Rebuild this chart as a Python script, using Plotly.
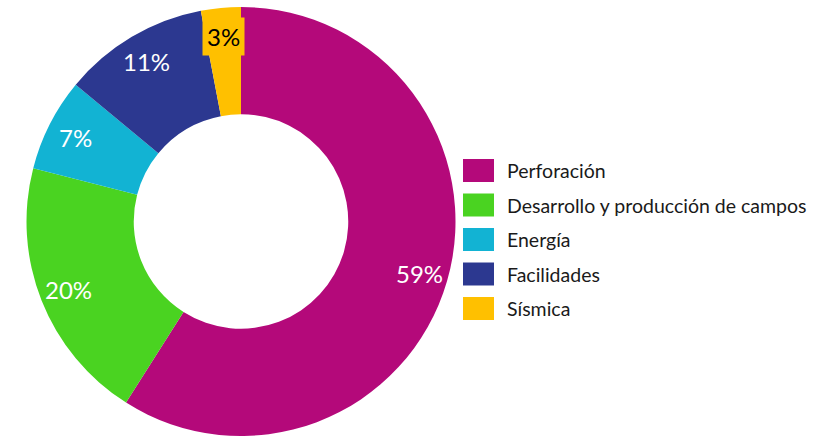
import math
import plotly.graph_objects as go

categories = ["Perforación", "Desarrollo y producción de campos", "Energía", "Facilidades", "Sísmica"]
values = [59, 20, 7, 11, 3]
colors = ["#B4097A", "#4AD321", "#12B3D3", "#2C3890", "#FFC000"]
label_colors = ["white", "white", "white", "white", "black"]
label_bg = [None, None, None, None, "#FFC000"]

W, H = 824, 436
CX, CY, R = 241.0, 221.5, 214.5
FONT = "Lato, Calibri, 'Open Sans', sans-serif"

fig = go.Figure(go.Pie(
    labels=categories,
    values=values,
    marker=dict(colors=colors, line=dict(width=0)),
    hole=0.5,
    sort=False,
    direction="clockwise",
    rotation=0,
    textinfo="none",
    showlegend=False,
    domain=dict(x=[(CX - R) / W, (CX + R) / W], y=[1 - (CY + R) / H, 1 - (CY - R) / H]),
))

annotations = []
shapes = []
total = sum(values)
cum = 0.0
for v, c, bg in zip(values, label_colors, label_bg):
    mid = (cum + v / 2) / total * 2 * math.pi
    cum += v
    rr = R * 0.865
    px = CX + rr * math.sin(mid)
    py = CY - rr * math.cos(mid)
    ann = dict(x=px / W, y=1 - py / H, xref="paper", yref="paper",
               text=f"{round(v / total * 100)}%", showarrow=False,
               font=dict(family=FONT, size=24, color=c),
               xanchor="center", yanchor="middle")
    if bg:
        ann.update(bgcolor=bg, borderpad=4)
    annotations.append(ann)

# legend
row0, gap = 170.5, 34.5
for i, (cat, col) in enumerate(zip(categories, colors)):
    yc = row0 + i * gap
    shapes.append(dict(type="rect", xref="paper", yref="paper",
                       x0=463 / W, x1=494 / W, y0=1 - (yc + 11.5) / H, y1=1 - (yc - 11.5) / H,
                       fillcolor=col, line=dict(width=0)))
    annotations.append(dict(x=505 / W, y=1 - yc / H, xref="paper", yref="paper",
                            text=cat, showarrow=False, xanchor="left", yanchor="middle",
                            font=dict(family=FONT, size=19.5, color="#1a1a1a")))

fig.update_layout(
    width=W, height=H,
    margin=dict(l=0, r=0, t=0, b=0),
    paper_bgcolor="white", plot_bgcolor="white",
    annotations=annotations, shapes=shapes,
)
fig.write_html("out.html", config={"displayModeBar": False},
               post_script="document.body.style.margin='0';")
